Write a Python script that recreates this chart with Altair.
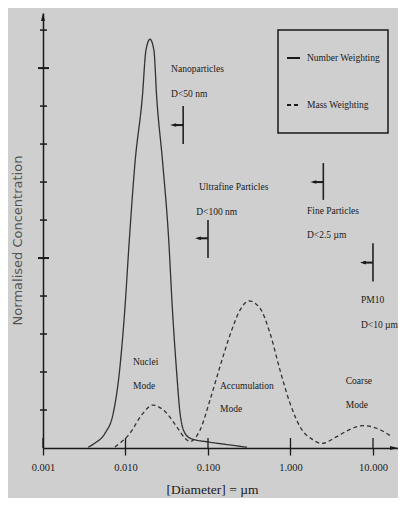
import altair as alt
import pandas as pd

# ---- data (diameter in µm, normalised concentration) ----
num_d = [0.00351, 0.00427, 0.00565, 0.00711, 0.00841, 0.00986, 0.01112, 0.01303, 0.01600,
         0.0177, 0.01982, 0.0221, 0.02388, 0.02825, 0.03342, 0.03690, 0.04178, 0.04581,
         0.05260, 0.06339, 0.1, 0.1849, 0.2972]
num_v = [0.02, 0.13, 0.39, 0.92, 1.97, 3.71, 5.47, 7.5, 9.24,
         10.47, 10.76, 10.47, 9.24, 7.5, 5.47, 3.71, 1.97, 0.92,
         0.39, 0.24, 0.16, 0.08, 0.02]

mass_d = [0.00746, 0.01135, 0.01570, 0.02138, 0.03013, 0.04178, 0.05260, 0.06053, 0.07998,
          0.1057, 0.1396, 0.1936, 0.2443, 0.3141, 0.4266, 0.5649, 0.7464, 0.9863, 1.303,
          1.890, 2.388, 3.631, 5.260, 7.628, 11.09, 16.87]
mass_v = [0.03, 0.39, 0.87, 1.13, 0.96, 0.56, 0.26, 0.17, 0.47,
          1.26, 2.14, 3.10, 3.63, 3.87, 3.68, 3.02, 2.05, 1.18, 0.56,
          0.21, 0.12, 0.30, 0.49, 0.59, 0.52, 0.30]

series_names = ["Number Weighting", "Mass Weighting"]

x_tick_values = [0.001, 0.01, 0.1, 1, 10]
y_minor_ticks = [1, 2, 3, 4, 6, 7, 8, 9, 11]
y_major_ticks = [5, 10]

cut_d = [0.05, 0.1, 2.5, 10]
cut_top = [9.0, 6.0, 7.5, 5.39]
cut_bot = [8.0, 5.0, 6.53, 4.38]
cut_arrow = [8.5, 5.52, 7.0, 4.88]

ann_text = ["Nanoparticles", "D<50 nm", "Ultrafine Particles", "D<100 nm",
            "Fine Particles", "D<2.5 µm", "PM10", "D<10 µm",
            "Nuclei", "Mode", "Accumulation", "Mode", "Coarse", "Mode"]
ann_d = [0.0357, 0.0357, 0.0778, 0.0720, 1.585, 1.585, 7.15, 7.15,
         0.01233, 0.01233, 0.1396, 0.1396, 4.67, 4.67]
ann_v = [9.97, 9.32, 6.87, 6.21, 6.24, 5.61, 3.89, 3.24,
         2.26, 1.63, 1.63, 1.03, 1.76, 1.13]

# ---- tables ----
curves = pd.DataFrame({
    "d": num_d + mass_d,
    "v": num_v + mass_v,
    "series": [series_names[0]] * len(num_d) + [series_names[1]] * len(mass_d),
})
yminor = pd.DataFrame({"v": y_minor_ticks})
ymajor = pd.DataFrame({"v": y_major_ticks})
xt = pd.DataFrame({"d": x_tick_values})
cuts = pd.DataFrame({"d": cut_d, "top": cut_top, "bot": cut_bot, "arr": cut_arrow})
ann = pd.DataFrame({"d": ann_d, "v": ann_v, "t": ann_text})
dummy = pd.DataFrame({"a": [0]})

FONT = "Liberation Serif, DejaVu Serif, serif"
INK = "#1a1a1a"

x_scale = alt.Scale(type="log", domain=[0.001, 20.1], nice=False)
y_scale = alt.Scale(domain=[0, 11.45], nice=False)

x_axis = alt.Axis(values=x_tick_values, format=".3f", grid=False,
                  title="[Diameter] = µm", titleFont=FONT, titleFontSize=13.5,
                  titleFontWeight="normal", titleColor=INK, titleX=169, titleY=41,
                  titleAlign="center", titleBaseline="middle",
                  labelFont=FONT, labelFontSize=10.5, labelColor=INK, labelPadding=7,
                  labelFlush=False, labelOverlap=False, labelBound=False,
                  tickSize=7, tickWidth=1.3, tickColor=INK,
                  domainColor=INK, domainWidth=1.5)
y_axis = alt.Axis(labels=False, ticks=False, grid=False,
                  title="Normalised Concentration", titleFont="DejaVu Sans",
                  titleFontSize=13, titleFontWeight="normal", titleColor="#555555",
                  titleAngle=270, titleX=-26, titleY=227, titleAlign="center",
                  titleBaseline="middle", domainColor=INK, domainWidth=1.5)


def X(field):
    return alt.X(field, type="quantitative", scale=x_scale, axis=x_axis)


def Y(field):
    return alt.Y(field, type="quantitative", scale=y_scale, axis=y_axis)


lines = alt.Chart(curves).mark_line(interpolate="monotone", strokeWidth=1.3, color="#333333").encode(
    x=X("d"), y=Y("v"),
    strokeDash=alt.StrokeDash(
        "series:N",
        scale=alt.Scale(domain=series_names, range=[[1, 0], [4, 3]]),
        legend=alt.Legend(title=None, orient="none", legendX=235, legendY=17,
                          direction="vertical", symbolType="stroke", symbolSize=169,
                          symbolStrokeWidth=1.8, symbolStrokeColor=INK,
                          labelFont=FONT, labelFontSize=9.5, labelColor=INK,
                          labelOffset=6, labelLimit=200, padding=8,
                          clipHeight=40, rowPadding=7),
    ),
    order=alt.Order("d:Q"),
)

y_minor = alt.Chart(yminor).mark_rule(color=INK, strokeWidth=1.5).encode(
    y=Y("v"), x=alt.value(-3), x2=alt.value(4))
y_major = alt.Chart(ymajor).mark_rule(color=INK, strokeWidth=2).encode(
    y=Y("v"), x=alt.value(-5), x2=alt.value(6))
x_inner = alt.Chart(xt).mark_rule(color=INK, strokeWidth=1.3).encode(
    x=X("d"), y=alt.value(425), y2=alt.value(435))

cut_lines = alt.Chart(cuts).mark_rule(color="#222222", strokeWidth=1.6).encode(
    x=X("d"), y=Y("top"), y2=alt.Y2("bot"))
cut_arrows = alt.Chart(cuts).mark_rule(color=INK, strokeWidth=2, x2Offset=-10).encode(
    x=X("d"), x2=alt.X2("d"), y=Y("arr"))
cut_heads = alt.Chart(cuts).mark_point(shape="M-1,0L1,-0.6L1,0.6Z", filled=True, size=36,
                                       color=INK, opacity=1, xOffset=-10).encode(
    x=X("d"), y=Y("arr"))

labels = alt.Chart(ann).mark_text(align="left", baseline="middle", font=FONT,
                                  fontSize=9.5, color=INK).encode(
    x=X("d"), y=Y("v"), text="t:N")

x_head = alt.Chart(dummy).mark_point(shape="M1,0L-1,0.5L-1,-0.5Z", filled=True, size=64,
                                     color=INK, opacity=1).encode(
    x=alt.value(351), y=alt.value(435))
y_head = alt.Chart(dummy).mark_point(shape="M0,-1L0.5,1L-0.5,1Z", filled=True, size=64,
                                     color=INK, opacity=1).encode(
    x=alt.value(0), y=alt.value(4))

chart = alt.layer(
    lines, y_minor, y_major, x_inner, cut_lines, cut_arrows, cut_heads, labels, x_head, y_head
).properties(
    width=355, height=435,
    autosize=alt.AutoSizeParams(type="none"),
    padding={"left": 35, "top": 5, "right": 0, "bottom": 50},
    background="#cfcfcf",
).configure_view(stroke=None).configure_legend(strokeColor=INK, strokeWidth=1.5)

chart.save("out.html", embed_options={"renderer": "svg", "actions": False})
